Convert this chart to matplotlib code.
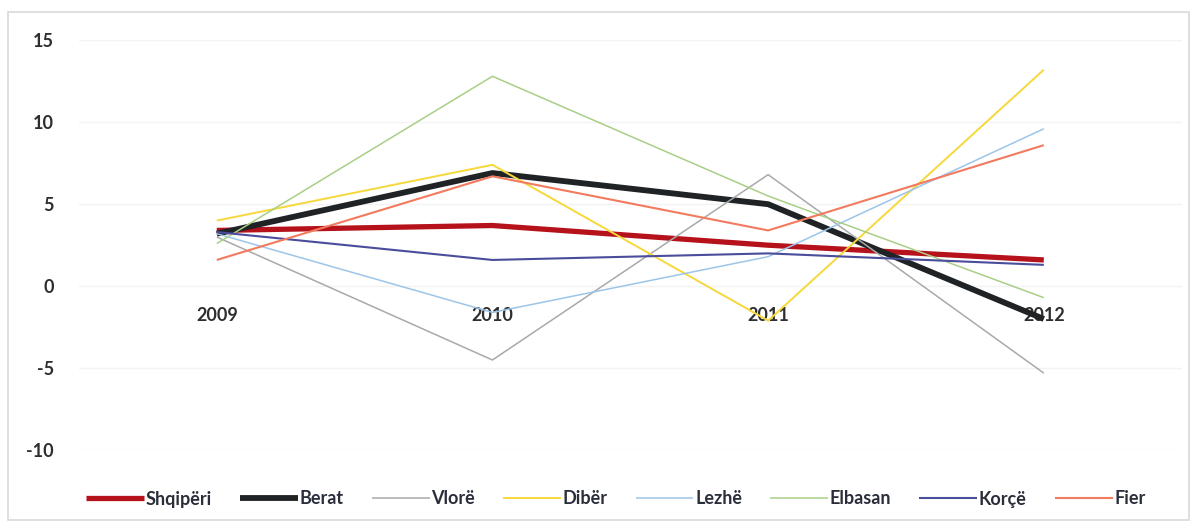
import matplotlib.pyplot as plt
from matplotlib.patches import Rectangle

# --- data ---
years = ["2009", "2010", "2011", "2012"]
shqiperi = [3.4, 3.7, 2.5, 1.6]
berat = [3.2, 6.9, 5.0, -2.0]
vlore = [3.0, -4.5, 6.8, -5.3]
diber = [4.0, 7.4, -2.1, 13.2]
lezhe = [3.2, -1.6, 1.8, 9.6]
elbasan = [2.6, 12.8, 5.5, -0.7]
korce = [3.3, 1.6, 2.0, 1.3]
fier = [1.6, 6.7, 3.4, 8.6]

series = [
    ("Shqipëri", shqiperi, "#b5121b", 3.8),
    ("Berat", berat, "#1f2326", 4.2),
    ("Vlorë", vlore, "#a9a9a9", 1.1),
    ("Dibër", diber, "#f7d83a", 1.4),
    ("Lezhë", lezhe, "#9cc5e8", 1.1),
    ("Elbasan", elbasan, "#a8cf86", 1.1),
    ("Korçë", korce, "#4a4c9c", 1.5),
    ("Fier", fier, "#f27a5e", 1.5),
]

plt.rcParams['font.family'] = ['Lato', 'DejaVu Sans']
plt.rcParams['axes.unicode_minus'] = False

fig = plt.figure(figsize=(11.96, 5.29), dpi=100)
ax = fig.add_axes([0.066, 0.149, 0.922, 0.775])

x = range(len(years))
for name, vals, col, lw in series:
    ax.plot(x, vals, color=col, lw=lw, label=name, solid_capstyle='butt')

ax.set_xlim(-0.5, len(years) - 0.5)
ax.set_ylim(-10, 15)
ax.set_yticks([-10, -5, 0, 5, 10, 15])
ax.set_xticks(list(x))
ax.set_xticklabels(years)

# faint gridlines like the original
ax.yaxis.grid(True, color="#f3f3f3", lw=1)
ax.set_axisbelow(True)

for s in ["top", "right", "left"]:
    ax.spines[s].set_visible(False)
ax.spines["bottom"].set_position(("data", 0))
ax.spines["bottom"].set_visible(False)

ax.tick_params(axis="x", length=0, pad=15, labelsize=13, labelcolor="#2e2e2e")
ax.tick_params(axis="y", length=0, pad=18, labelsize=13, labelcolor="#2e2e2e")
for lab in ax.get_xticklabels() + ax.get_yticklabels():
    lab.set_fontweight("bold")

leg = fig.legend(loc="center", bbox_to_anchor=(0.515, 1 - 499 / 529), ncol=8,
                 frameon=False, handlelength=3.2, handletextpad=0.1,
                 columnspacing=1.55, prop={"size": 13, "weight": "bold"})
for t in leg.get_texts():
    t.set_color("#2a2e3a")

# chart border
fig.patches.append(Rectangle((8 / 1196, 9 / 529), 1181 / 1196, 508 / 529,
                             transform=fig.transFigure, fill=False,
                             edgecolor="#d9d9d9", lw=1.2))

fig.savefig("out.png", dpi=100, facecolor="white")
